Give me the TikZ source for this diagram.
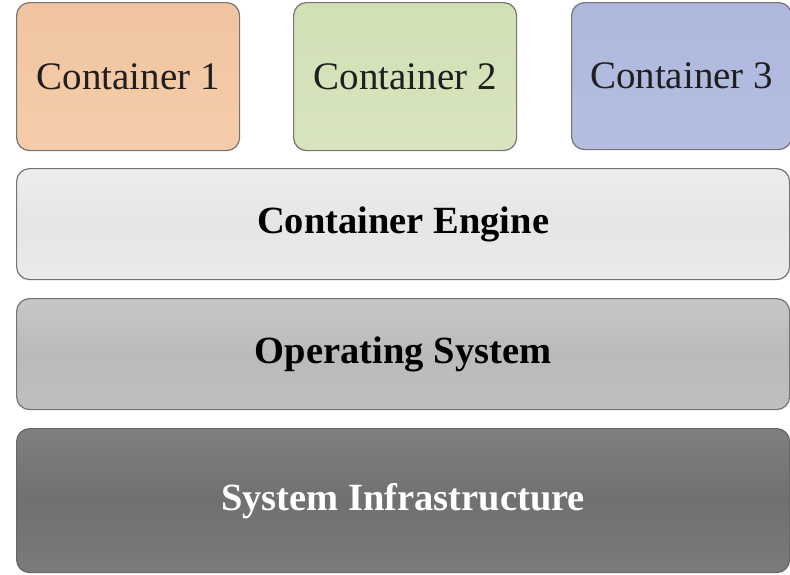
\documentclass[tikz,border=0pt]{standalone}
\usepackage{fontspec}
\setmainfont{Liberation Serif}
\newfontfamily\boxfont{Liberation Serif}
\definecolor{cone}{RGB}{245,204,170}
\definecolor{conetop}{RGB}{240,196,160}
\definecolor{ctwo}{RGB}{215,228,189}
\definecolor{ctwotop}{RGB}{210,224,182}
\definecolor{cthree}{RGB}{180,190,225}
\definecolor{cthreetop}{RGB}{174,184,221}
\begin{document}
\begin{tikzpicture}[x=1pt,y=-1pt,
  box/.style={draw=black!55,line width=1.2pt,rounded corners=13pt,inner sep=0pt,anchor=north west},
  ctext/.style={font=\boxfont\fontsize{39}{44}\selectfont,text=black!88},
  ltext/.style={font=\boxfont\bfseries\fontsize{38.5}{44}\selectfont}]
\useasboundingbox (0,0) rectangle (790,574);
\node[box,minimum width=223pt,minimum height=148pt,top color=conetop,bottom color=cone] (c1) at (16,2) {};
\node[box,minimum width=223pt,minimum height=148pt,top color=ctwotop,bottom color=ctwo] (c2) at (293,2) {};
\node[box,minimum width=220pt,minimum height=147pt,top color=cthreetop,bottom color=cthree] (c3) at (571,2) {};
\node[ctext] at (c1.center) {Container 1};
\node[ctext] at (c2.center) {Container 2};
\node[ctext] at (c3.center) {Container 3};
\node[box,minimum width=773pt,minimum height=111pt,top color=black!7,bottom color=black!8,middle color=black!10] (ce) at (16,168) {};
\node[ltext] at (ce.center) {Container Engine};
\node[box,minimum width=773pt,minimum height=111pt,top color=black!22,bottom color=black!25,middle color=black!27] (os) at (16,298) {};
\node[ltext] at (os.center) {Operating System};
\node[box,draw=black!60,minimum width=773pt,minimum height=144pt,top color=black!50,bottom color=black!52,middle color=black!56] (si) at (16,428) {};
\node[ltext,text=white] at (si.center) {System Infrastructure};
\end{tikzpicture}
\end{document}
